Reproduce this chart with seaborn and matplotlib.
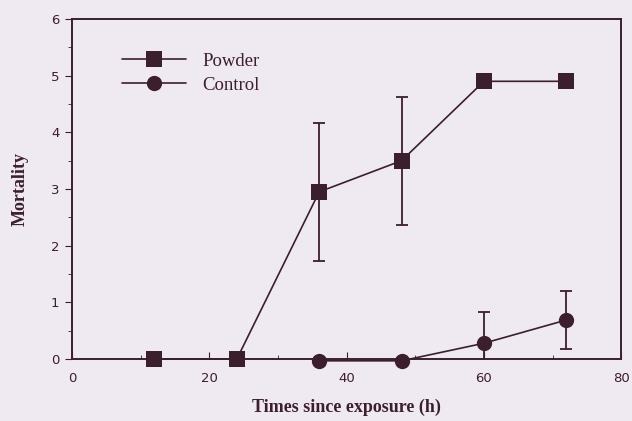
import matplotlib
matplotlib.use("Agg")
import matplotlib.pyplot as plt
import seaborn as sns
import pandas as pd
from matplotlib.ticker import MultipleLocator

# 데이터
hours_powder = [12, 24, 36, 48, 60, 72]
mort_powder = [0.0, 0.0, 2.95, 3.5, 4.9, 4.9]
err_powder = [0.0, 0.0, 1.22, 1.13, 0.0, 0.0]

hours_control = [36, 48, 60, 72]
mort_control = [-0.03, -0.03, 0.28, 0.69]
err_control = [0.0, 0.0, 0.55, 0.52]

ink = "#3b1f2c"
bg = "#efe9f1"

sns.set_style("ticks")
plt.rcParams['font.family'] = ['Liberation Serif', 'DejaVu Serif']

df = pd.concat([
    pd.DataFrame({'h': hours_powder, 'm': mort_powder, 'g': 'Powder'}),
    pd.DataFrame({'h': hours_control, 'm': mort_control, 'g': 'Control'}),
])

fig = plt.figure(figsize=(6.32, 4.21), dpi=100, facecolor=bg)
ax = fig.add_axes([0.114, 0.147, 0.869, 0.808])
ax.set_facecolor(bg)

sns.lineplot(data=df, x='h', y='m', hue='g', style='g',
             markers={'Powder': 's', 'Control': 'o'}, dashes=False,
             palette={'Powder': ink, 'Control': ink},
             markersize=11, markeredgewidth=0, linewidth=1.2,
             ax=ax, clip_on=False, zorder=3)

ax.errorbar(hours_powder, mort_powder, yerr=err_powder, fmt='none',
            ecolor=ink, elinewidth=1.3, capsize=4, capthick=1.3)
ax.errorbar(hours_control, mort_control, yerr=err_control, fmt='none',
            ecolor=ink, elinewidth=1.3, capsize=4, capthick=1.3)

ax.set_xlim(0, 80)
ax.set_ylim(0, 6)
ax.xaxis.set_major_locator(MultipleLocator(20))
ax.xaxis.set_minor_locator(MultipleLocator(10))
ax.yaxis.set_major_locator(MultipleLocator(1))
ax.yaxis.set_minor_locator(MultipleLocator(0.5))
ax.tick_params(axis='x', which='both', direction='in', colors=ink, pad=9)
ax.tick_params(axis='x', which='major', length=5)
ax.tick_params(axis='x', which='minor', length=3)
ax.tick_params(axis='y', which='both', direction='out', colors=ink, pad=4)
ax.tick_params(axis='y', which='major', length=5)
ax.tick_params(axis='y', which='minor', length=3)
for lab in ax.get_xticklabels() + ax.get_yticklabels():
    lab.set_family('DejaVu Sans')
    lab.set_fontsize(9.5)
for s in ax.spines.values():
    s.set_color(ink)
    s.set_linewidth(1.4)

ax.set_xlabel('Times since exposure (h)', fontsize=13, fontweight='bold', color=ink, labelpad=10)
ax.set_ylabel('Mortality', fontsize=13, fontweight='bold', color=ink, labelpad=16)

handles, labels = ax.get_legend_handles_labels()
ax.legend(handles, labels, loc='upper left', bbox_to_anchor=(0.06, 0.95),
          frameon=False, fontsize=13.5, handlelength=3.4, labelspacing=0.35,
          handletextpad=0.9, labelcolor=ink)

fig.savefig('out.png', dpi=100, facecolor=bg)
